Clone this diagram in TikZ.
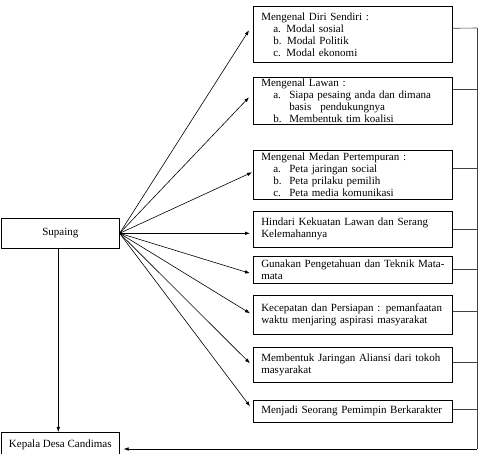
\documentclass[tikz,border=0pt]{standalone}
\usepackage{fontspec}
\setmainfont{Liberation Serif}
\usetikzlibrary{arrows.meta}
\begin{document}
\begin{tikzpicture}[x=1pt,y=-1pt,
  box/.style={draw, line width=0.6pt, anchor=north west, inner xsep=8pt, inner ysep=0pt,
    text width=183pt, minimum width=199pt, align=left, font=\fontsize{11}{12}\selectfont},
  lbox/.style={draw, line width=0.6pt, anchor=north west, minimum width=118pt, inner sep=1pt,
    font=\fontsize{11}{12.5}\selectfont},
  arr/.style={-{Latex[length=5pt,width=3.6pt]}, line width=0.6pt},
  ln/.style={line width=0.6pt, black!75}]
\useasboundingbox (0,0) rectangle (483,454);
% left nodes
\node[lbox, minimum height=30pt] (sup) at (1,218) {\raisebox{2pt}{Supaing}};
\node[lbox, minimum height=25pt] (kep) at (1,432) {Kepala Desa Candimas};
% right boxes
\node[box, minimum height=56pt] (b1) at (253,6) {Mengenal Diri Sendiri :\\
  \hspace*{12pt}a. Modal sosial\\
  \hspace*{12pt}b. Modal Politik\\
  \hspace*{12pt}c. Modal ekonomi};
\node[box, minimum height=47pt] (b2) at (253,77) {Mengenal Lawan :\\
  \hspace*{12pt}\makebox[16pt][l]{a.}Siapa pesaing anda dan dimana\\
  \hspace*{28pt}basis\hspace{9pt}pendukungnya\\
  \hspace*{12pt}\makebox[16pt][l]{b.}Membentuk tim koalisi};
\node[box, minimum height=49pt] (b3) at (253,150) {Mengenal Medan Pertempuran :\\
  \hspace*{12pt}\makebox[16pt][l]{a.}Peta jaringan social\\
  \hspace*{12pt}\makebox[16pt][l]{b.}Peta prilaku pemilih\\
  \hspace*{12pt}\makebox[16pt][l]{c.}Peta media komunikasi};
\node[box, minimum height=36pt] (b4) at (253,211) {Hindari Kekuatan Lawan dan Serang\\Kelemahannya};
\node[box, minimum height=27pt] (b5) at (253,256) {\mbox{Gunakan Pengetahuan dan Teknik Mata-}\\mata};
\node[box, minimum height=39pt] (b6) at (253,295) {\makebox[186pt][s]{Kecepatan dan Persiapan : pemanfaatan}\\waktu menjaring aspirasi masyarakat};
\node[box, minimum height=35pt] (b7) at (253,347) {Membentuk Jaringan Aliansi dari tokoh\\masyarakat};
\node[box, minimum height=22pt] (b8) at (253,400) {Menjadi Seorang Pemimpin Berkarakter};
% arrows from Supaing
\draw[arr] (sup.east) -- ([xshift=-4pt,yshift=4pt]b1.west);
\draw[arr] (sup.east) -- ([xshift=-4pt,yshift=3.5pt]b2.west);
\draw[arr] (sup.east) -- ([xshift=-1pt,yshift=2.5pt]b3.west);
\draw[arr] (sup.east) -- ([xshift=-3pt]sup.east -| b4.west);
\draw[arr] (sup.east) -- ([xshift=-3pt,yshift=-3.5pt]b5.west);
\draw[arr] (sup.east) -- ([xshift=-3pt,yshift=1.5pt]b6.west);
\draw[arr] (sup.east) -- ([xshift=-3pt,yshift=1.5pt]b7.west);
\draw[arr] (sup.east) -- ([xshift=-3pt,yshift=5pt]b8.west);
\draw[arr] ([xshift=-2pt]sup.south) -- ([xshift=-2pt]kep.north);
% right collector
\coordinate (rt) at (477,28);
\coordinate (rb) at (477,449);
\draw[ln] ([yshift=6pt]b1.east) -- (rt);
\draw[ln] ([yshift=11.5pt]b2.east) -- ++(25,0);
\draw[ln] ([yshift=6.5pt]b3.east) -- ++(25,0);
\draw[ln] (b4.east) -- ++(25,0);
\draw[ln] (b5.east) -- ++(25,0);
\draw[ln] ([yshift=3.5pt]b6.east) -- ++(25,0);
\draw[ln] ([yshift=2.5pt]b7.east) -- ++(25,0);
\draw[ln] ([yshift=2pt]b8.east) -- ++(25,0);
\draw[ln] (rt) -- (rb);
\draw[arr] (rb) -- ([xshift=4pt]kep.east |- rb);
\end{tikzpicture}
\end{document}
